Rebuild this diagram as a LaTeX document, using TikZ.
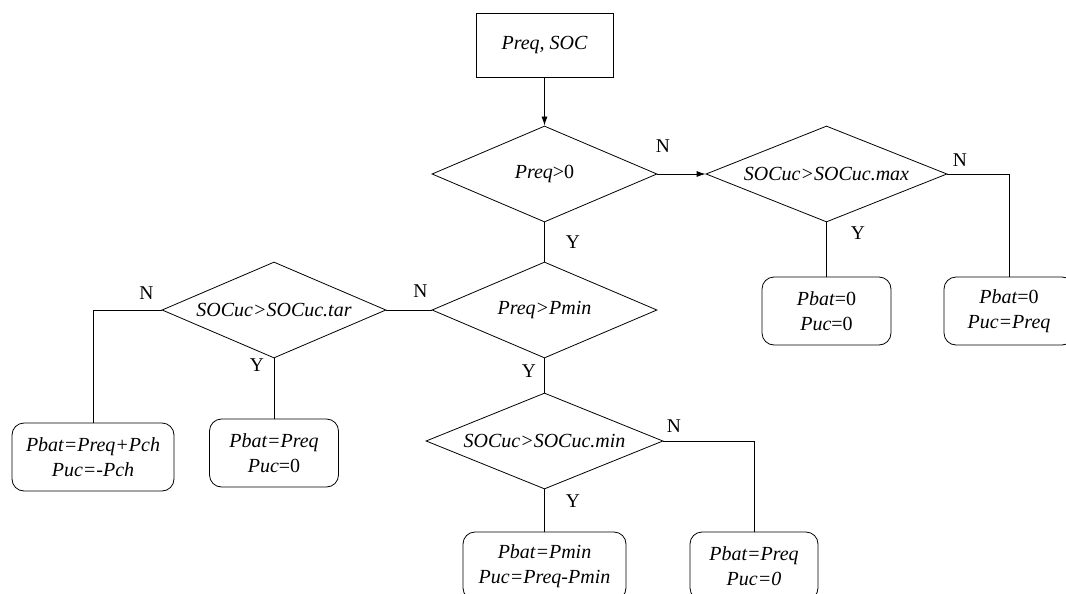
\documentclass[tikz,border=0pt]{standalone}
\usepackage{fontspec}
\setmainfont{Liberation Serif}
\usetikzlibrary{shapes.geometric,arrows.meta}
\newcommand{\upr}[1]{{\upshape #1}}
\newcommand{\cond}[1]{\makebox[0pt]{#1}}

\begin{document}
\begin{tikzpicture}[x=1pt,y=-1pt,line width=0.8pt,
        every node/.style={font=\fontsize{20}{25}\selectfont\itshape,inner sep=0pt},
        test/.style={draw,diamond,minimum width=#1,minimum height=96pt},
        test/.default=225pt,
        result/.style={draw,rectangle,rounded corners=12pt,align=center,
            minimum width=#1,minimum height=68pt},
        result/.default=129pt,
        yn/.style={font=\fontsize{19.5}{20}\selectfont\upshape},
        arrow/.style={-{Latex[length=9pt,width=6pt]}}]
    \useasboundingbox (0,0) rectangle (1066,594);

    \node [draw,minimum width=137pt,minimum height=64pt] (start) at (544.5,45) {Preq, SOC};

    \node [test]        (pos)  at (544.5,174) {\cond{Preq\upr{>0}}};
    \node [test=241pt]  (max)  at (826.5,174) {\cond{SOCuc>SOCuc.max}};
    \node [test]        (pmin) at (544.5,310) {\cond{Preq>Pmin}};
    \node [test=224pt]  (tar)  at (274,310)   {\cond{SOCuc>SOCuc.tar}};
    \node [test=237pt]  (min)  at (544.5,441) {\cond{SOCuc>SOCuc.min}};

    \node [result]        (zero)   at (826.5,311) {Pbat\upr{=0}\\Puc\upr{=0}};
    \node [result=130pt]  (regen)  at (1009,311)  {Pbat\upr{=0}\\Puc=Preq};
    \node [result=162pt]  (charge) at (93,457)    {Pbat=Preq+Pch\\Puc=-Pch};
    \node [result]        (batt)   at (274,453)   {Pbat=Preq\\Puc\upr{=0}};
    \node [result=163pt]  (share)  at (544.5,566) {Pbat=Pmin\\Puc=Preq-Pmin};
    \node [result=128pt]  (low)    at (754,566)   {Pbat=Preq\\Puc=0};

    \draw [arrow] (start) -- (pos);
    \draw [arrow] (pos.east) -- (max.west);
    \draw (max.east) -| (regen.north);
    \draw (max.south) -- (zero.north);
    \draw (pos.south) -- (pmin.north);
    \draw (pmin.west) -- (tar.east);
    \draw (tar.west) -| (charge.north);
    \draw (tar.south) -- (batt.north);
    \draw (pmin.south) -- (min.north);
    \draw (min.east) -| (low.north);
    \draw (min.south) -- (share.north);

    \foreach \lbl/\x/\y [count=\i] in {N/663/146,N/960/160.5,Y/858/233,Y/573/242,
            N/420.5/291,Y/529/371.5,N/146.5/293.5,Y/257/365,N/674/426.5,Y/573/501}
        \node [yn] (yn\i) at (\x,\y) {\lbl};
\end{tikzpicture}
\end{document}
